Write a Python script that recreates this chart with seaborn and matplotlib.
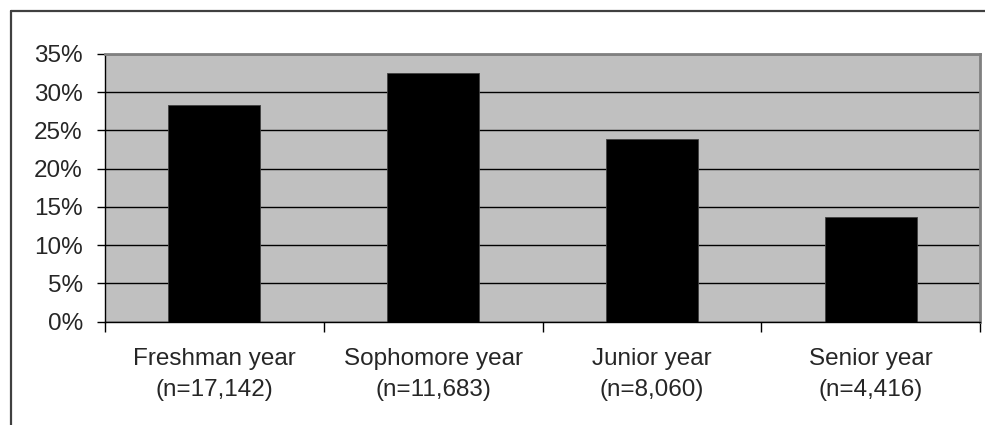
import matplotlib
matplotlib.use('Agg')
import matplotlib.pyplot as plt
import seaborn as sns
from matplotlib.lines import Line2D
from matplotlib.ticker import FuncFormatter, MultipleLocator, FixedLocator

# Values
years = ['Freshman year', 'Sophomore year', 'Junior year', 'Senior year']
counts = ['17,142', '11,683', '8,060', '4,416']
shares = [0.283, 0.325, 0.239, 0.137]

labels = [f'{y}\n(n={n})' for y, n in zip(years, counts)]

sns.set_style('white')
plt.rcParams['font.family'] = ['Liberation Sans', 'DejaVu Sans']

fig = plt.figure(figsize=(9.85, 4.25), dpi=100)
ax = fig.add_axes([105 / 985, (425 - 321.5) / 425, 875 / 985, (321.5 - 54) / 425])

ax.set_facecolor('#c0c0c0')
ax.set_axisbelow(True)
ax.yaxis.grid(True, color='black', linewidth=1.0)

sns.barplot(x=labels, y=shares, color='black', saturation=1, width=0.42,
            edgecolor='#404040', linewidth=0.6, ax=ax)

ax.set_ylim(0, 0.35)
ax.set_xlim(-0.5, 3.5)
ax.yaxis.set_major_locator(MultipleLocator(0.05))
ax.yaxis.set_major_formatter(FuncFormatter(lambda v, p: f'{v * 100:.0f}%'))

# category separators as minor ticks on the x axis
ax.xaxis.set_minor_locator(FixedLocator([-0.5, 0.5, 1.5, 2.5, 3.5]))
ax.tick_params(axis='x', which='major', length=0, pad=19, labelsize=17.5)
ax.tick_params(axis='x', which='minor', length=7, width=1, color='black',
               direction='out', bottom=True)
ax.tick_params(axis='y', length=6, width=1, color='black', direction='out',
               left=True, pad=10, labelsize=17.5)
for t in ax.get_xticklabels():
    t.set_linespacing(1.55)

ax.set_xlabel('')
ax.set_ylabel('')

for side in ['top', 'right']:
    ax.spines[side].set_color('#808080')
    ax.spines[side].set_linewidth(2)
ax.spines['left'].set_color('black')
ax.spines['bottom'].set_color('black')
ax.spines['left'].set_linewidth(1)
ax.spines['bottom'].set_linewidth(1)

# outer chart frame (only top and left edges are visible in the crop)
fig.add_artist(Line2D([11 / 985, 1.0], [1 - 11 / 425, 1 - 11 / 425],
                      color='#404040', linewidth=1.6, transform=fig.transFigure))
fig.add_artist(Line2D([11 / 985, 11 / 985], [0, 1 - 11 / 425],
                      color='#404040', linewidth=1.6, transform=fig.transFigure))

fig.savefig('out.png', dpi=100, facecolor='white')
